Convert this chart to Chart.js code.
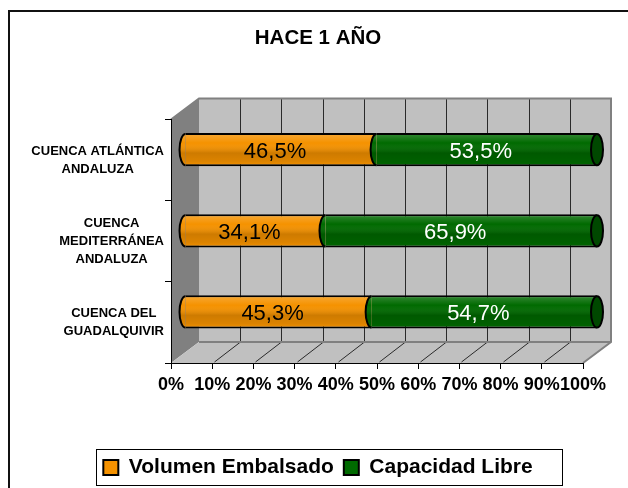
<!DOCTYPE html>
<html>
<head>
<meta charset="utf-8">
<script src="https://cdn.jsdelivr.net/npm/chart.js"></script>
<style>
html, body { margin: 0; padding: 0; background: #fff; }
</style>
</head>
<body>
<canvas id="chart" width="628" height="488"></canvas>
<script>
const categories = [["CUENCA ATLÁNTICA", "ANDALUZA"], ["CUENCA", "MEDITERRÁNEA", "ANDALUZA"], ["CUENCA DEL", "GUADALQUIVIR"]];
const volumenEmbalsado = [46.5, 34.1, 45.3];
const capacidadLibre = [53.5, 65.9, 54.7];
const xTicks = [0, 10, 20, 30, 40, 50, 60, 70, 80, 90, 100];
const seriesNames = ["Volumen Embalsado", "Capacidad Libre"];
const seriesColors = ["#f59200", "#006a00"];

const FONT = "'Liberation Sans', Arial, sans-serif";
const DX = 28, DY = 21;   // depth of the 3d box
const RX = 6;             // cylinder cap radius

function fmt(v) {
	return v.toFixed(1).replace(".", ",") + "%";
}

function shade(ctx, y, h) {
	const g = ctx.createLinearGradient(0, y - h / 2, 0, y + h / 2);
	g.addColorStop(0, "rgba(255,255,255,0.22)");
	g.addColorStop(0.3, "rgba(255,255,255,0)");
	g.addColorStop(0.6, "rgba(0,0,0,0.16)");
	g.addColorStop(0.85, "rgba(0,0,0,0.1)");
	g.addColorStop(1, "rgba(0,0,0,0)");
	return g;
}

const box3d = {
	id: "box3d",
	beforeDraw(chart) {
		const ctx = chart.ctx;
		const a = chart.chartArea;
		const x = chart.scales.x;
		ctx.save();
		// outer frame
		ctx.strokeStyle = "#111";
		ctx.lineWidth = 2;
		ctx.strokeRect(9, 11, 700, 700);
		// side wall
		ctx.fillStyle = "#808080";
		ctx.beginPath();
		ctx.moveTo(a.left, a.top);
		ctx.lineTo(a.left + DX, a.top - DY);
		ctx.lineTo(a.left + DX, a.bottom - DY);
		ctx.lineTo(a.left, a.bottom);
		ctx.closePath();
		ctx.fill();
		// back wall
		ctx.fillStyle = "#c0c0c0";
		ctx.fillRect(a.left + DX, a.top - DY, a.width, a.height);
		// floor
		ctx.beginPath();
		ctx.moveTo(a.left, a.bottom);
		ctx.lineTo(a.left + DX, a.bottom - DY);
		ctx.lineTo(a.right + DX, a.bottom - DY);
		ctx.lineTo(a.right, a.bottom);
		ctx.closePath();
		ctx.fill();
		// grid lines on the wall and floor
		ctx.strokeStyle = "#2a2a2a";
		ctx.lineWidth = 1;
		xTicks.forEach(v => {
			if (v === 0 || v === 100) return;
			const px = Math.round(x.getPixelForValue(v)) + 0.5;
			ctx.beginPath();
			ctx.moveTo(px + DX, a.top - DY);
			ctx.lineTo(px + DX, a.bottom - DY);
			ctx.moveTo(px + 2, a.bottom - 1);
			ctx.lineTo(px + DX, a.bottom - DY);
			ctx.stroke();
		});
		// edges
		ctx.strokeStyle = "#808080";
		ctx.lineWidth = 2;
		ctx.beginPath();
		ctx.moveTo(a.left + DX, a.bottom - DY);
		ctx.lineTo(a.right + DX, a.bottom - DY);
		ctx.stroke();
		ctx.beginPath();
		ctx.moveTo(a.left, a.top);
		ctx.lineTo(a.left + DX, a.top - DY);
		ctx.lineTo(a.right + DX, a.top - DY);
		ctx.lineTo(a.right + DX, a.bottom - DY);
		ctx.lineTo(a.right, a.bottom);
		ctx.stroke();
		ctx.restore();
	},
	beforeDatasetsDraw(chart) {
		chart.ctx.save();
		chart.ctx.translate(DX / 2, -DY / 2);
	},
	afterDatasetsDraw(chart) {
		const ctx = chart.ctx;
		const n = chart.data.datasets.length;
		for (let d = 0; d < n; d++) {
			const meta = chart.getDatasetMeta(d);
			meta.data.forEach(el => {
				const p = el.getProps(["x", "y", "base", "height"], true);
				const h = p.height;
				// shading over the body
				ctx.save();
				ctx.fillStyle = shade(ctx, p.y, h);
				ctx.fillRect(p.base, p.y - h / 2 + 2, p.x - p.base, h - 4);
				// curved start of the segment
				ctx.beginPath();
				ctx.ellipse(p.base, p.y, RX, h / 2 - 1, 0, Math.PI / 2, Math.PI * 3 / 2);
				ctx.closePath();
				ctx.fillStyle = seriesColors[d];
				ctx.fill();
				ctx.fillStyle = shade(ctx, p.y, h);
				ctx.fill();
				ctx.beginPath();
				ctx.ellipse(p.base, p.y, RX, h / 2 - 1, 0, Math.PI / 2, Math.PI * 3 / 2);
				ctx.strokeStyle = "#000";
				ctx.lineWidth = 2;
				ctx.stroke();
				// end cap of the cylinder
				if (d === n - 1) {
					ctx.beginPath();
					ctx.ellipse(p.x, p.y, RX, h / 2 - 1, 0, 0, Math.PI * 2);
					ctx.fillStyle = "#004800";
					ctx.fill();
					ctx.stroke();
				}
				ctx.restore();
			});
		}
		// value labels
		ctx.save();
		ctx.font = "22px " + FONT;
		ctx.textAlign = "center";
		ctx.textBaseline = "middle";
		for (let d = 0; d < n; d++) {
			const meta = chart.getDatasetMeta(d);
			const vals = chart.data.datasets[d].data;
			meta.data.forEach((el, i) => {
				const p = el.getProps(["x", "y", "base"], true);
				ctx.fillStyle = d === 0 ? "#000" : "#fff";
				ctx.fillText(fmt(vals[i]), (p.base + p.x) / 2 - RX, p.y + 2);
			});
		}
		ctx.restore();
		ctx.restore();
	},
	afterDraw(chart) {
		const ctx = chart.ctx;
		const a = chart.chartArea;
		const y = chart.scales.y;
		ctx.save();
		// category labels, lines centred inside a right-aligned block
		ctx.font = "bold 13px " + FONT;
		ctx.fillStyle = "#000";
		ctx.textAlign = "center";
		ctx.textBaseline = "middle";
		categories.forEach((lines, i) => {
			const cy = y.getPixelForValue(i);
			const w = Math.max(...lines.map(s => ctx.measureText(s).width));
			const cx = a.left - 7 - w / 2;
			lines.forEach((s, k) => {
				ctx.fillText(s, cx, cy + (k - (lines.length - 1) / 2) * 18);
			});
		});
		// legend frame
		const hb = chart.legend.legendHitBoxes;
		if (hb && hb.length) {
			const cy = hb[0].top + hb[0].height / 2;
			const l = hb[0].left - 7;
			const r = hb[hb.length - 1].left + hb[hb.length - 1].width + 30;
			ctx.strokeStyle = "#000";
			ctx.lineWidth = 1;
			ctx.strokeRect(Math.round(l) + 0.5, Math.round(cy - 19) + 0.5, Math.round(r - l), 36);
		}
		ctx.restore();
	}
};

new Chart(document.getElementById("chart"), {
	type: "bar",
	data: {
		labels: categories,
		datasets: [{
			label: seriesNames[0],
			data: volumenEmbalsado,
			backgroundColor: seriesColors[0],
			borderColor: "#000",
			borderWidth: { top: 2, bottom: 2, left: 0, right: 0 },
			borderSkipped: false,
			clip: false
		}, {
			label: seriesNames[1],
			data: capacidadLibre,
			backgroundColor: seriesColors[1],
			borderColor: "#000",
			borderWidth: { top: 2, bottom: 2, left: 0, right: 0 },
			borderSkipped: false,
			clip: false
		}]
	},
	options: {
		indexAxis: "y",
		responsive: false,
		animation: false,
		devicePixelRatio: 1,
		layout: { padding: { left: 8, right: 0, top: 0, bottom: 0 } },
		datasets: { bar: { categoryPercentage: 1, barPercentage: 0.41 } },
		scales: {
			x: {
				stacked: true,
				min: 0,
				max: 100,
				afterBuildTicks(s) { s.ticks = xTicks.map(v => ({ value: v })); },
				afterFit(s) { s.height = 84; },
				ticks: {
					autoSkip: false,
					maxRotation: 0,
					color: "#000",
					padding: 5,
					font: { family: FONT, size: 18, weight: "bold" },
					callback: v => v + "%"
				},
				grid: { drawOnChartArea: false, drawTicks: true, tickLength: 6, color: "#000" },
				border: { display: true, color: "#000", width: 1 }
			},
			y: {
				stacked: true,
				afterFit(s) { s.width = 163; },
				ticks: { display: false },
				grid: { drawOnChartArea: false, drawTicks: true, tickLength: 6, color: "#000", offset: true },
				border: { display: true, color: "#000", width: 1 }
			},
			y2: {
				type: "linear",
				position: "right",
				display: true,
				afterFit(s) { s.width = 45; },
				ticks: { display: false },
				grid: { display: false },
				border: { display: false }
			}
		},
		plugins: {
			title: {
				display: true,
				text: "HACE 1 AÑO",
				color: "#000",
				font: { family: FONT, size: 20.5, weight: "bold" },
				padding: { top: 26, bottom: 69 }
			},
			legend: {
				position: "bottom",
				labels: {
					color: "#000",
					font: { family: FONT, size: 21, weight: "bold" },
					boxWidth: 15,
					boxHeight: 15,
					padding: 10,
					generateLabels: chart => chart.data.datasets.map((ds, i) => ({
						text: ds.label,
						fillStyle: ds.backgroundColor,
						strokeStyle: "#000",
						lineWidth: 2,
						datasetIndex: i,
						hidden: false
					}))
				}
			},
			tooltip: { enabled: false }
		}
	},
	plugins: [box3d]
});
</script>
</body>
</html>
